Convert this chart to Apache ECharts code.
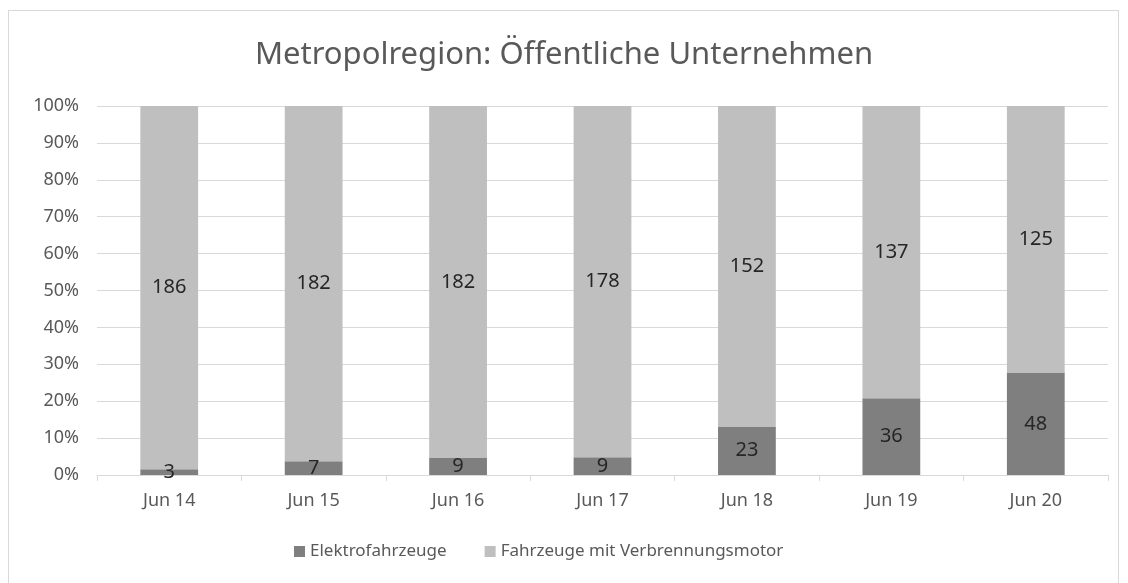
<!DOCTYPE html>
<html>
<head>
<meta charset="utf-8">
<script src="https://cdn.jsdelivr.net/npm/echarts@6/dist/echarts.min.js"></script>
<style>
  html, body { margin: 0; padding: 0; background: #fff; }
  #frame { position: absolute; left: 8px; top: 10px; width: 1111px; height: 580px; border: 1px solid #d9d9d9; box-sizing: border-box; }
  #chart { position: absolute; left: 0; top: 0; width: 1128px; height: 583px; }
</style>
</head>
<body>
<div id="frame"></div>
<div id="chart"></div>
<script>
// Monate (Kategorien)
var months = ['Jun 14', 'Jun 15', 'Jun 16', 'Jun 17', 'Jun 18', 'Jun 19', 'Jun 20']
// absolute Fahrzeugzahlen
var elektro = [3, 7, 9, 9, 23, 36, 48]
var verbrenner = [186, 182, 182, 178, 152, 137, 125]

var fontFam = '"Noto Sans", "Open Sans", sans-serif'

// Anteile in Prozent für die 100%-Stapel
function share(arr, i) {
    return arr[i] / (elektro[i] + verbrenner[i]) * 100
}
var elektroPct = elektro.map((v, i) => share(elektro, i))
var verbrennerPct = verbrenner.map((v, i) => share(verbrenner, i))

var myChart = echarts.init(document.getElementById('chart'))
var option = {
    animation: false,
    title: {
        text: 'Metropolregion: Öffentliche Unternehmen',
        left: 'center',
        top: 35,
        textStyle: { fontFamily: fontFam, fontSize: 31, fontWeight: 'normal', color: '#595959' }
    },
    legend: {
        bottom: 18,
        left: 289,
        itemWidth: 11,
        itemHeight: 11,
        itemGap: 38,
        icon: 'rect',
        textStyle: { fontFamily: fontFam, fontSize: 17, color: '#595959' },
        data: ['Elektrofahrzeuge', 'Fahrzeuge mit Verbrennungsmotor']
    },
    grid: { left: 97, right: 20, top: 106, bottom: 108 },
    xAxis: {
        type: 'category',
        data: months,
        axisLine: { lineStyle: { color: '#d9d9d9' } },
        axisTick: { show: true, length: 6, lineStyle: { color: '#d9d9d9' } },
        axisLabel: { fontFamily: fontFam, fontSize: 18, color: '#595959', margin: 17 }
    },
    yAxis: {
        type: 'value',
        min: 0,
        max: 100,
        interval: 10,
        axisLine: { show: false },
        axisTick: { show: false },
        splitLine: { lineStyle: { color: '#d9d9d9' } },
        axisLabel: { formatter: '{value}%', fontFamily: fontFam, fontSize: 18, color: '#595959', margin: 18 }
    },
    series: [
        {
            name: 'Elektrofahrzeuge',
            type: 'bar',
            stack: 'gesamt',
            barWidth: '40%',
            data: elektroPct,
            itemStyle: { color: '#7f7f7f' },
            label: {
                show: true,
                position: 'inside',
                fontFamily: fontFam,
                fontSize: 20,
                color: '#262626',
                formatter: p => elektro[p.dataIndex]
            }
        },
        {
            name: 'Fahrzeuge mit Verbrennungsmotor',
            type: 'bar',
            stack: 'gesamt',
            barWidth: '40%',
            data: verbrennerPct,
            itemStyle: { color: '#bfbfbf' },
            label: {
                show: true,
                position: 'inside',
                fontFamily: fontFam,
                fontSize: 20,
                color: '#262626',
                formatter: p => verbrenner[p.dataIndex]
            }
        }
    ]
}
myChart.setOption(option)
</script>
</body>
</html>
